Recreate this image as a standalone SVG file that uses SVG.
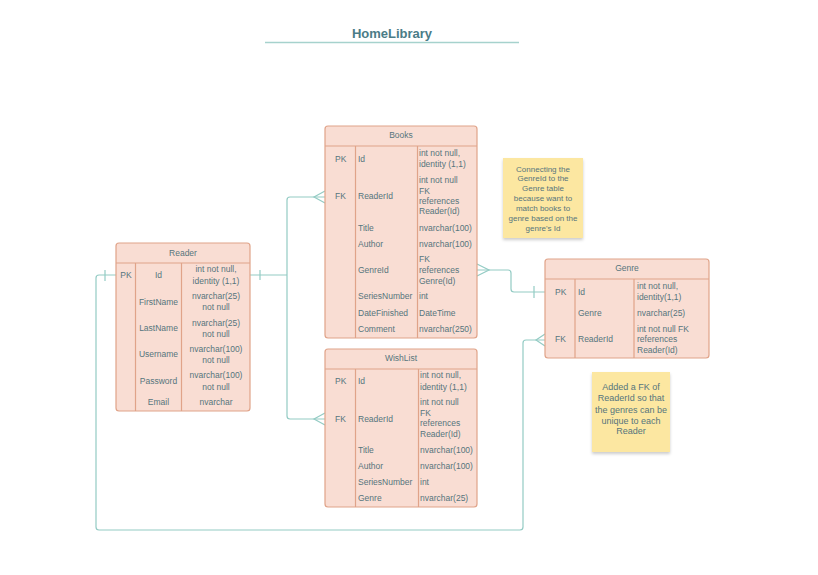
<svg xmlns="http://www.w3.org/2000/svg" width="818" height="575" viewBox="0 0 818 575">
<style>
.tbl{fill:#f9ddd3;stroke:#e0a389;stroke-width:1.2}
.ln{stroke:#e0a389;stroke-width:1.2;fill:none}
.t{font-family:"Liberation Sans",Arial,sans-serif;font-size:8.5px;fill:#56757d}
.c{text-anchor:middle}
.conn{fill:none;stroke:#93cbc4;stroke-width:1.2}
.note{fill:#fce7a1}
.nt{font-family:"Liberation Sans",Arial,sans-serif;fill:#56757d;text-anchor:middle}
</style>
<defs>
<filter id="sh" x="-20%" y="-20%" width="150%" height="150%">
<feDropShadow dx="0" dy="2" stdDeviation="1.5" flood-color="#000" flood-opacity="0.2"/>
</filter>
</defs>
<rect width="818" height="575" fill="#ffffff"/>
<g id="title">
<text x="392" y="38" font-family="Liberation Sans,Arial,sans-serif" font-size="13px" font-weight="bold" fill="#4b7c87" text-anchor="middle">HomeLibrary</text>
<line x1="265" y1="42.5" x2="519" y2="42.5" stroke="#a6d2cd" stroke-width="1.5"/>
</g>
<g id="connectors">
<path class="conn" d="M250,275 H287 M287,275 V200 Q287,197 290,197 H325 M287,275 V416 Q287,419 290,419 H325"/>
<path class="conn" d="M260,270 V280"/>
<path class="conn" d="M325,191 L314,197 L325,203"/>
<path class="conn" d="M325,413 L314,419 L325,425"/>
<path class="conn" d="M477,270 H508 Q511,270 511,273 V289 Q511,292 514,292 H545"/>
<path class="conn" d="M477,264 L489,270 L477,276"/>
<path class="conn" d="M534,286 V298"/>
<path class="conn" d="M116,275 H99 Q96,275 96,278 V527 Q96,530 99,530 H520 Q523,530 523,527 V343 Q523,340 526,340 H545"/>
<path class="conn" d="M105,270 V281"/>
<path class="conn" d="M545,334 L536,340 L545,346"/>
</g>
<g id="reader">
<rect class="tbl" x="116" y="243" width="134" height="168" rx="3"/>
<path class="ln" d="M116,263 H250 M135.5,263 V411 M181.5,263 V411"/>
<text class="t c" x="183" y="255.5">Reader</text>
<text class="t c" x="126" y="278">PK</text>
<text class="t c" x="158.5" y="278">Id</text>
<text class="t c" x="216" y="272">int not null,</text>
<text class="t c" x="216" y="284">identity (1,1)</text>
<text class="t c" x="158.5" y="305">FirstName</text>
<text class="t c" x="216" y="299">nvarchar(25)</text>
<text class="t c" x="216" y="310">not null</text>
<text class="t c" x="158.5" y="331">LastName</text>
<text class="t c" x="216" y="326">nvarchar(25)</text>
<text class="t c" x="216" y="337">not null</text>
<text class="t c" x="158.5" y="357">Username</text>
<text class="t c" x="216" y="352">nvarchar(100)</text>
<text class="t c" x="216" y="363">not null</text>
<text class="t c" x="158.5" y="384">Password</text>
<text class="t c" x="216" y="378">nvarchar(100)</text>
<text class="t c" x="216" y="390">not null</text>
<text class="t c" x="158.5" y="405">Email</text>
<text class="t c" x="216" y="405">nvarchar</text>
</g>
<g id="books">
<rect class="tbl" x="325" y="126" width="152" height="212" rx="3"/>
<path class="ln" d="M325,146 H477 M355.5,146 V338 M417.5,146 V338"/>
<text class="t c" x="401" y="138">Books</text>
<text class="t" x="335" y="162">PK</text>
<text class="t" x="358" y="162">Id</text>
<text class="t" x="419" y="156">int not null,</text>
<text class="t" x="419" y="167">identity (1,1)</text>
<text class="t" x="335" y="199">FK</text>
<text class="t" x="358" y="199">ReaderId</text>
<text class="t" x="419" y="183">int not null</text>
<text class="t" x="419" y="194">FK</text>
<text class="t" x="419" y="204">references</text>
<text class="t" x="419" y="214">Reader(Id)</text>
<text class="t" x="358" y="231">Title</text>
<text class="t" x="419" y="231">nvarchar(100)</text>
<text class="t" x="358" y="247">Author</text>
<text class="t" x="419" y="247">nvarchar(100)</text>
<text class="t" x="358" y="273">GenreId</text>
<text class="t" x="419" y="262">FK</text>
<text class="t" x="419" y="273">references</text>
<text class="t" x="419" y="284">Genre(Id)</text>
<text class="t" x="358" y="299">SeriesNumber</text>
<text class="t" x="419" y="299">int</text>
<text class="t" x="358" y="316">DateFinished</text>
<text class="t" x="419" y="316">DateTime</text>
<text class="t" x="358" y="332">Comment</text>
<text class="t" x="419" y="332">nvarchar(250)</text>
</g>
<g id="wishlist">
<rect class="tbl" x="325" y="349" width="152" height="158" rx="3"/>
<path class="ln" d="M325,369 H477 M355.5,369 V507 M418.5,369 V507"/>
<text class="t c" x="401" y="361">WishList</text>
<text class="t" x="335" y="384">PK</text>
<text class="t" x="358" y="384">Id</text>
<text class="t" x="420" y="378">int not null,</text>
<text class="t" x="420" y="390">identity (1,1)</text>
<text class="t" x="335" y="422">FK</text>
<text class="t" x="358" y="422">ReaderId</text>
<text class="t" x="420" y="405">int not null</text>
<text class="t" x="420" y="416">FK</text>
<text class="t" x="420" y="426">references</text>
<text class="t" x="420" y="437">Reader(Id)</text>
<text class="t" x="358" y="453">Title</text>
<text class="t" x="420" y="453">nvarchar(100)</text>
<text class="t" x="358" y="469">Author</text>
<text class="t" x="420" y="469">nvarchar(100)</text>
<text class="t" x="358" y="485">SeriesNumber</text>
<text class="t" x="420" y="485">int</text>
<text class="t" x="358" y="501">Genre</text>
<text class="t" x="420" y="501">nvarchar(25)</text>
</g>
<g id="genre">
<rect class="tbl" x="545" y="259" width="164" height="99" rx="3"/>
<path class="ln" d="M545,279 H709 M575,279 V358 M634,279 V358"/>
<text class="t c" x="627" y="271">Genre</text>
<text class="t" x="555" y="295">PK</text>
<text class="t" x="578" y="295">Id</text>
<text class="t" x="637" y="289">int not null,</text>
<text class="t" x="637" y="300">identity(1,1)</text>
<text class="t" x="578" y="316">Genre</text>
<text class="t" x="637" y="316">nvarchar(25)</text>
<text class="t" x="555" y="342">FK</text>
<text class="t" x="578" y="342">ReaderId</text>
<text class="t" x="637" y="332">int not null FK</text>
<text class="t" x="637" y="342">references</text>
<text class="t" x="637" y="353">Reader(Id)</text>
</g>
<g id="note1">
<rect class="note" x="503" y="158" width="80" height="80" filter="url(#sh)"/>
<text class="nt" font-size="8px" x="543" y="172">Connecting the</text>
<text class="nt" font-size="8px" x="543" y="181">GenreId to the</text>
<text class="nt" font-size="8px" x="543" y="191">Genre table</text>
<text class="nt" font-size="8px" x="543" y="201">because want to</text>
<text class="nt" font-size="8px" x="543" y="211">match books to</text>
<text class="nt" font-size="8px" x="543" y="221">genre based on the</text>
<text class="nt" font-size="8px" x="543" y="231">genre's Id</text>
</g>
<g id="note2">
<rect class="note" x="592" y="372" width="78" height="80" filter="url(#sh)"/>
<text class="nt" font-size="9px" x="631" y="390">Added a FK of</text>
<text class="nt" font-size="9px" x="631" y="401">ReaderId so that</text>
<text class="nt" font-size="9px" x="631" y="413">the genres can be</text>
<text class="nt" font-size="9px" x="631" y="424">unique to each</text>
<text class="nt" font-size="9px" x="631" y="434">Reader</text>
</g>
</svg>
